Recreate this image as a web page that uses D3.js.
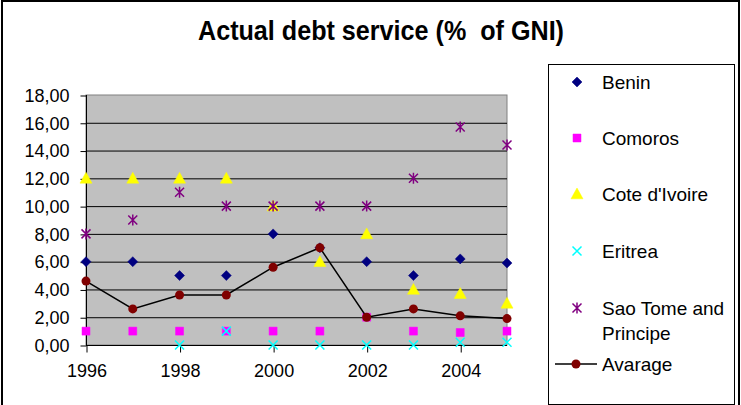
<!DOCTYPE html>
<html lang="en">
<head>
<meta charset="UTF-8">
<title>Actual debt service (% of GNI)</title>
<script src="https://d3js.org/d3.v7.min.js"></script>
<style>
  body { margin: 0; background: #fff; }
  text { font-family: "Liberation Sans", Arial, sans-serif; }
</style>
</head>
<body>
<svg width="741" height="405"></svg>
<script>
// data
var years = [1996, 1997, 1998, 1999, 2000, 2001, 2002, 2003, 2004, 2005];
var yearTicks = [1996, 1998, 2000, 2002, 2004];
var yTicks = [0, 2, 4, 6, 8, 10, 12, 14, 16, 18];

var benin = [6, 6, 5, 5, 8, 7, 6, 5, 6.2, 5.9];
var comoros = [1, 1, 1, 1, 1, 1, 2, 1, 0.9, 1];
var coteDIvoire = [12, 12, 12, 12, 10, 6, 8, 4, 3.7, 3];
var eritrea = [null, null, 0, 1, 0, 0, 0, 0, 0.2, 0.2];
var saoTome = [8, 9, 11, 10, 10, 10, 10, 12, 15.7, 14.4];
var average = [4.6, 2.6, 3.6, 3.6, 5.6, 7, 2, 2.6, 2.1, 1.9];

var svg = d3.select("svg");

var plot = {left: 86, right: 507, top: 95, bottom: 345};

var x = d3.scalePoint().domain(years).range([plot.left, plot.right]);
var y = d3.scaleLinear().domain([0, 18]).range([plot.bottom, plot.top]);

// outer chart border
svg.append("rect")
  .attr("x", 2).attr("y", 1).attr("width", 737).attr("height", 410)
  .attr("fill", "none").attr("stroke", "#000").attr("stroke-width", 2);

// title
svg.append("text")
  .attr("x", 381).attr("y", 40)
  .attr("text-anchor", "middle")
  .attr("textLength", 366).attr("lengthAdjust", "spacingAndGlyphs")
  .style("font-size", "27px").style("font-weight", "bold")
  .text("Actual debt service (%\u00a0 of GNI)");

// plot background
svg.append("rect")
  .attr("x", plot.left).attr("y", plot.top)
  .attr("width", plot.right - plot.left).attr("height", plot.bottom - plot.top)
  .attr("fill", "#c0c0c0").attr("stroke", "#808080");

// gridlines
svg.append("g").selectAll("line")
  .data(yTicks.slice(1, -1))
  .enter().append("line")
  .attr("x1", plot.left).attr("x2", plot.right)
  .attr("y1", function(d) { return y(d) + 0.5; })
  .attr("y2", function(d) { return y(d) + 0.5; })
  .attr("stroke", "#000");

// y axis
var yAxis = svg.append("g")
  .attr("transform", "translate(" + (plot.left + 0.5) + ",0.5)")
  .call(d3.axisLeft(y).tickValues(yTicks).tickSize(6).tickPadding(11)
    .tickFormat(function(d) { return d3.format(".2f")(d).replace(".", ","); }));
yAxis.select(".domain").attr("d", "M0," + (plot.top - 0.5) + "V" + (plot.bottom - 0.5));
yAxis.selectAll("text").style("font-size", "18px").attr("fill", "#000")
  .attr("font-family", null);

// x axis
var xAxis = svg.append("g")
  .attr("transform", "translate(0.5," + (plot.bottom + 0.5) + ")")
  .call(d3.axisBottom(x).tickValues(yearTicks).tickSize(7).tickPadding(12)
    .tickFormat(d3.format("d")));
xAxis.select(".domain").attr("d", "M" + (plot.left - 0.5) + ",0H" + (plot.right - 0.5));
xAxis.selectAll("text").style("font-size", "18px").attr("fill", "#000")
  .attr("font-family", null);

// marker shapes
function diamond(s) { return "M0," + (-s) + "L" + s + ",0L0," + s + "L" + (-s) + ",0Z"; }
function square(s) { return "M" + (-s) + "," + (-s) + "H" + s + "V" + s + "H" + (-s) + "Z"; }
function triangle(s) { return "M0," + (-s) + "L" + s + "," + (s * 0.8) + "L" + (-s) + "," + (s * 0.8) + "Z"; }
function cross(s) { return "M" + (-s) + "," + (-s) + "L" + s + "," + s + "M" + s + "," + (-s) + "L" + (-s) + "," + s; }
function star(s) { return cross(s) + "M0," + (-s - 1) + "V" + (s + 1); }

var series = [
  {name: "Benin", values: benin, path: diamond(5), color: "#000080", fill: true},
  {name: "Comoros", values: comoros, path: square(4), color: "#ff00ff", fill: true},
  {name: "Cote d'Ivoire", values: coteDIvoire, path: triangle(6), color: "#ffff00", fill: true},
  {name: "Eritrea", values: eritrea, path: cross(4.5), color: "#00ffff", fill: false},
  {name: "Sao Tome and Principe", values: saoTome, path: star(4.5), color: "#800080", fill: false}
];

series.forEach(function(s) {
  svg.append("g").selectAll("path")
    .data(s.values.map(function(v, i) { return {year: years[i], v: v}; })
      .filter(function(d) { return d.v !== null; }))
    .enter().append("path")
    .attr("transform", function(d) { return "translate(" + x(d.year) + "," + y(d.v) + ")"; })
    .attr("d", s.path)
    .attr("fill", s.fill ? s.color : "none")
    .attr("stroke", s.color)
    .attr("stroke-width", s.fill ? 0.5 : 1.5);
});

// average line
var avgData = average.map(function(v, i) { return {year: years[i], v: v}; });
svg.append("path")
  .datum(avgData)
  .attr("fill", "none").attr("stroke", "#000").attr("stroke-width", 1.5)
  .attr("d", d3.line().x(function(d) { return x(d.year); }).y(function(d) { return y(d.v); }));
svg.append("g").selectAll("circle")
  .data(avgData)
  .enter().append("circle")
  .attr("cx", function(d) { return x(d.year); })
  .attr("cy", function(d) { return y(d.v); })
  .attr("r", 4.5)
  .attr("fill", "#800000");

// legend
svg.append("rect")
  .attr("x", 548.5).attr("y", 64.5).attr("width", 186).attr("height", 340)
  .attr("fill", "#fff").attr("stroke", "#000");

var legendY = [82, 138, 194, 251, 308];
series.forEach(function(s, i) {
  var g = svg.append("g").attr("transform", "translate(0," + legendY[i] + ")");
  g.append("path")
    .attr("transform", "translate(577,0)")
    .attr("d", s.path)
    .attr("fill", s.fill ? s.color : "none")
    .attr("stroke", s.color)
    .attr("stroke-width", s.fill ? 0.5 : 1.5);
  var lines = s.name == "Sao Tome and Principe" ? ["Sao Tome and", "Principe"] : [s.name];
  lines.forEach(function(t, j) {
    g.append("text")
      .attr("x", 602).attr("y", 7 + j * 25)
      .style("font-size", "19px")
      .text(t);
  });
});

var avgLegend = svg.append("g").attr("transform", "translate(0,364)");
avgLegend.append("line")
  .attr("x1", 555).attr("x2", 597).attr("y1", 0).attr("y2", 0)
  .attr("stroke", "#000").attr("stroke-width", 1.5);
avgLegend.append("circle")
  .attr("cx", 576).attr("cy", 0).attr("r", 4.5).attr("fill", "#800000");
avgLegend.append("text")
  .attr("x", 602).attr("y", 7)
  .style("font-size", "19px")
  .text("Avarage");
</script>
</body>
</html>
